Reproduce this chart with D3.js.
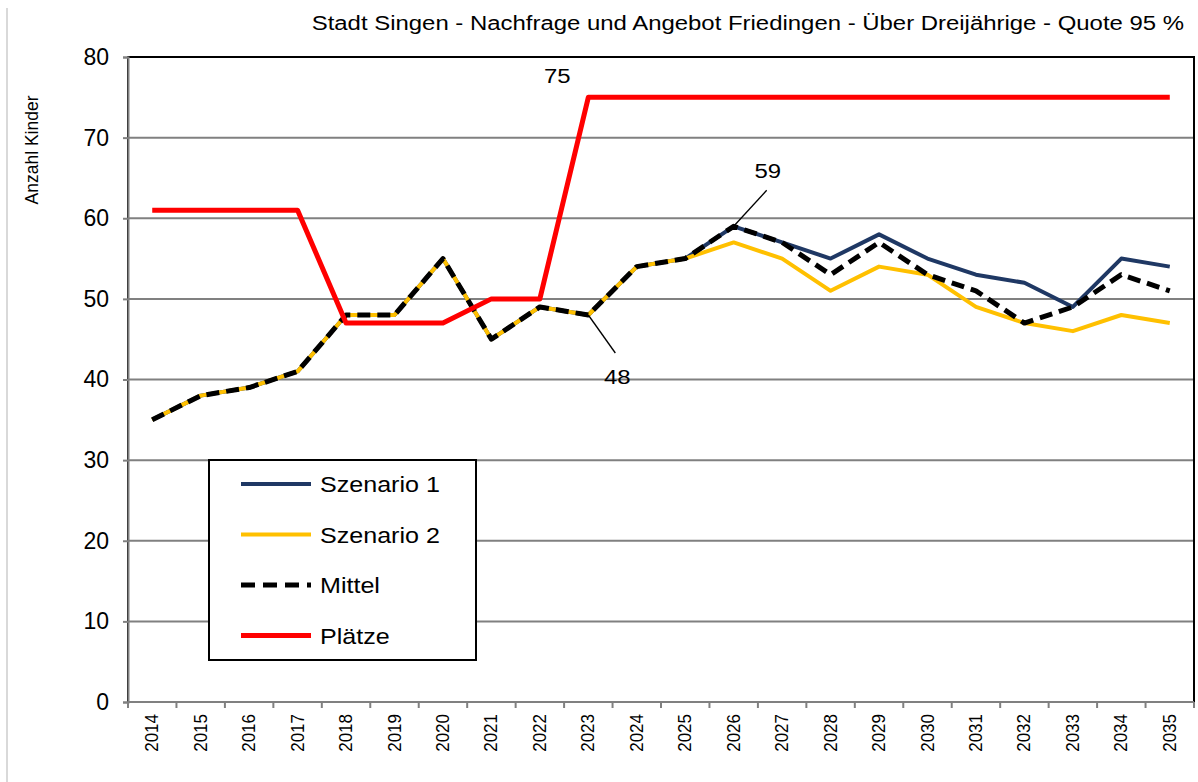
<!DOCTYPE html>
<html>
<head>
<meta charset="utf-8">
<script src="https://cdn.jsdelivr.net/npm/d3@7"></script>
<style>
  body { margin: 0; background: #fff; }
  text { font-family: "Liberation Sans", Arial, sans-serif; fill: #000; }
</style>
</head>
<body>
<div id="chart"></div>
<script>
var years = ["2014","2015","2016","2017","2018","2019","2020","2021","2022","2023","2024",
  "2025","2026","2027","2028","2029","2030","2031","2032","2033","2034","2035"];
var szenario1 = [35,38,39,41,48,48,55,45,49,48,54,55,59,57,55,58,55,53,52,49,55,54];
var szenario2 = [35,38,39,41,48,48,55,45,49,48,54,55,57,55,51,54,53,49,47,46,48,47];
var mittel    = [35,38,39,41,48,48,55,45,49,48,54,55,59,57,53,57,53,51,47,49,53,51];
var plaetze   = [61,61,61,61,47,47,47,50,50,75,75,75,75,75,75,75,75,75,75,75,75,75];
var yTicks = [0,10,20,30,40,50,60,70,80];

var svgWidth = 1198;
var svgHeight = 782;
var margin = { top: 57, right: 4, bottom: 80, left: 128 };
var width = svgWidth - margin.left - margin.right;
var height = svgHeight - margin.top - margin.bottom;
var stretch = 1.14; // source picture is a bit wider than tall

var svg = d3.select("#chart").append("svg")
  .attr("width", svgWidth)
  .attr("height", svgHeight);

// faint outer frame line
svg.append("line").attr("x1", 7).attr("x2", 7).attr("y1", 8).attr("y2", 782)
  .attr("stroke", "#ccc").attr("stroke-width", 1.5);

var g = svg.append("g").attr("transform", "translate(" + margin.left + "," + margin.top + ")");

var x = d3.scaleBand().domain(years).range([0, width]);
var y = d3.scaleLinear().domain([0, 80]).range([height, 0]);
var cx = function(i) { return x(years[i]) + x.bandwidth() / 2; };

// gridlines
g.selectAll(".grid").data(yTicks.slice(1, -1)).enter().append("line")
  .attr("x1", 0).attr("x2", width)
  .attr("y1", function(d) { return y(d); }).attr("y2", function(d) { return y(d); })
  .attr("stroke", "#808080").attr("stroke-width", 2);

// plot border (top/right black)
g.append("rect").attr("x", 0).attr("y", 0).attr("width", width).attr("height", height)
  .attr("fill", "none").attr("stroke", "#000").attr("stroke-width", 2);

// y axis
var yAxis = g.append("g").call(d3.axisLeft(y).tickValues(yTicks).tickSize(5).tickPadding(14));
yAxis.attr("font-size", null).attr("font-family", null);
yAxis.select(".domain").attr("stroke", "#808080").attr("stroke-width", 2);
yAxis.selectAll(".tick line").attr("stroke", "#808080").attr("stroke-width", 2);
yAxis.selectAll(".tick text").style("font-size", "23px");

// x axis with ticks at category boundaries
var xAxisG = g.append("g").attr("transform", "translate(0," + height + ")");
xAxisG.append("line").attr("x1", 0).attr("x2", width).attr("stroke", "#808080").attr("stroke-width", 2);
xAxisG.selectAll(".xtick").data(d3.range(years.length + 1)).enter().append("line")
  .attr("x1", function(i) { return i * x.step(); }).attr("x2", function(i) { return i * x.step(); })
  .attr("y1", 0).attr("y2", 6).attr("stroke", "#808080").attr("stroke-width", 2);
xAxisG.selectAll(".xlab").data(years).enter().append("text")
  .attr("transform", function(d) { return "translate(" + (x(d) + x.bandwidth() / 2 + 6) + ",12) rotate(-90) scale(1,1.12)"; })
  .attr("text-anchor", "end")
  .attr("font-size", "17px")
  .text(function(d) { return d; });

// y axis title
svg.append("text")
  .attr("transform", "translate(38,150) rotate(-90)")
  .attr("text-anchor", "middle")
  .attr("font-size", "17.5px")
  .text("Anzahl Kinder");

// chart title
svg.append("text")
  .attr("transform", "translate(1184,30) scale(" + stretch + ",1)")
  .attr("text-anchor", "end")
  .attr("font-size", "21px")
  .text("Stadt Singen - Nachfrage und Angebot Friedingen - Über Dreijährige - Quote 95 %");

var line = d3.line().x(function(d, i) { return cx(i); }).y(function(d) { return y(d); });

var series = [
  { name: "Szenario 1", values: szenario1, color: "#1F3864", w: 4, dash: null },
  { name: "Szenario 2", values: szenario2, color: "#FFC000", w: 4, dash: null },
  { name: "Mittel", values: mittel, color: "#000", w: 5, dash: "13,7" },
  { name: "Plätze", values: plaetze, color: "#FF0000", w: 5, dash: null }
];

series.forEach(function(s) {
  g.append("path").datum(s.values)
    .attr("d", line)
    .attr("fill", "none")
    .attr("stroke", s.color)
    .attr("stroke-width", s.w)
    .attr("stroke-dasharray", s.dash)
    .attr("stroke-linejoin", "round");
});

// annotations
function note(tx, ty, label) {
  g.append("text").attr("transform", "translate(" + tx + "," + ty + ") scale(" + stretch + ",1)")
    .attr("text-anchor", "middle").attr("font-size", "21px").text(label);
}
note(cx(9) - 31, y(75) - 14, "75");
g.append("line").attr("x1", cx(12)).attr("y1", y(59)).attr("x2", cx(12) + 33).attr("y2", y(59) - 36)
  .attr("stroke", "#000").attr("stroke-width", 1.3);
note(cx(12) + 34, y(59) - 48, "59");
g.append("line").attr("x1", cx(9)).attr("y1", y(48)).attr("x2", cx(9) + 27).attr("y2", y(48) + 38)
  .attr("stroke", "#000").attr("stroke-width", 1.3);
note(cx(9) + 29, y(48) + 69, "48");

// legend
var legend = svg.append("g").attr("transform", "translate(209,460)");
legend.append("rect").attr("width", 267).attr("height", 200)
  .attr("fill", "#fff").attr("stroke", "#000").attr("stroke-width", 2);
var rows = legend.selectAll(".row").data(series).enter().append("g")
  .attr("transform", function(d, i) { return "translate(0," + (24 + i * 50.5) + ")"; });
rows.append("line").attr("x1", 32).attr("x2", 102)
  .attr("stroke", function(d) { return d.color; })
  .attr("stroke-width", function(d) { return d.w; })
  .attr("stroke-dasharray", function(d) { return d.dash ? "14,8" : null; });
rows.append("text")
  .attr("transform", "translate(111,8) scale(" + stretch + ",1)")
  .attr("font-size", "22px")
  .text(function(d) { return d.name; });
</script>
</body>
</html>
